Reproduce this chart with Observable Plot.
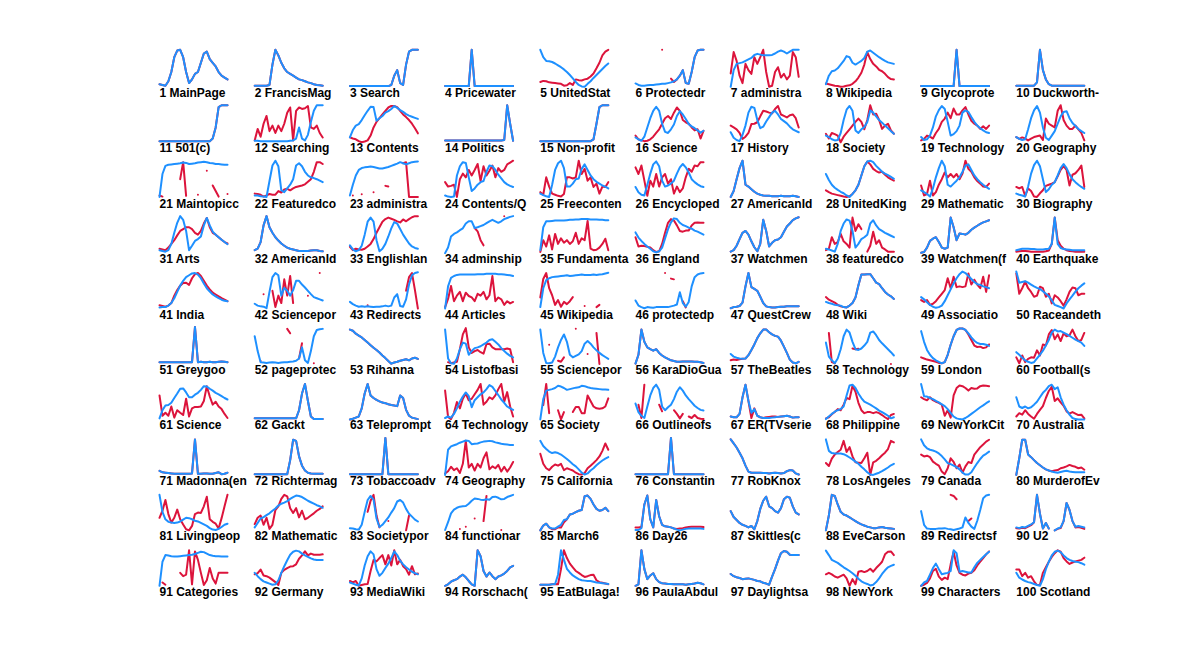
<!DOCTYPE html>
<html><head><meta charset="utf-8">
<script src="https://cdn.jsdelivr.net/npm/d3@7"></script>
<script src="https://cdn.jsdelivr.net/npm/@observablehq/plot@0.6"></script>
<style>html,body{margin:0;padding:0;background:#fff;overflow:hidden}</style>
</head><body><div id="chart"></div>
<script>
const S = "same"; // red series identical to blue
const _ = null;   // missing value

const labels = [
"MainPage","FrancisMag","Search","Pricewater","UnitedStat","Protectedr","administra","Wikipedia","Glycoprote","Duckworth-",
"501(c)","Searching","Contents","Politics","Non-profit","Science","History","Society","Technology","Geography",
"Maintopicc","Featuredco","administra","Contents/Q","Freeconten","Encycloped","AmericanId","UnitedKing","Mathematic","Biography",
"Arts","AmericanId","Englishlan","adminship","Fundamenta","England","Watchmen","featuredco","Watchmen(f","Earthquake",
"India","Sciencepor","Redirects","Articles","Wikipedia","protectedp","QuestCrew","Wiki","Associatio","Raceandeth",
"Greygoo","pageprotec","Rihanna","Listofbasi","Sciencepor","KaraDioGua","TheBeatles","Technology","London","Football(s",
"Science","Gackt","Teleprompt","Technology","Society","Outlineofs","ER(TVserie","Philippine","NewYorkCit","Australia",
"Madonna(en","Richtermag","Tobaccoadv","Geography","California","Constantin","RobKnox","LosAngeles","Canada","MurderofEv",
"Livingpeop","Mathematic","Societypor","functionar","March6","Day26","Skittles(c","EveCarson","Redirectsf","U2",
"Categories","Germany","MediaWiki","Rorschach(","EatBulaga!","PaulaAbdul","Daylightsa","NewYork","Characters","Scotland"
];

const blue = [
[0.7,0.5,0.3,1.5,4,8,9.8,10,8,4,1,2,3.5,4,6.5,9,9.5,7.5,6.5,5.5,4,3,2.5,2],
[0.3,0.3,0.3,0.3,0.3,0.5,6,10,8.5,6.5,5,4,3.5,3,2.5,2,1.8,1.5,1.2,1,0.7,0.5,0.4,0.3],
[0.2,0.2,0.2,0.2,0.2,0.2,0.2,0.2,0.2,0.2,0.2,0.2,0.2,0.2,0.5,3,4.5,1,0.5,6,9.5,10,10,10],
[0.2,0.2,0.2,0.2,0.2,0.2,0.2,0.2,0.2,10,0.2,0.2,0.2,0.2,0.2,0.2,0.2,0.2,0.2,0.2,0.2,0.2,0.2,0.2],
[10,8,7,6.9,6.7,6.3,5.8,5.3,4.7,4,3.2,2.3,1.3,0.5,0.1,0,0.8,1.5,2.4,3.2,4,4.8,5.6,6.3],
[0.9,0.5,0.3,0.3,0.4,0.5,0.5,0.6,0.7,0.8,0.8,1,1.2,1.5,2,3,4.5,1,0.8,4,8,9.8,10,10],
[0,4.5,6.2,6.4,6.6,7,7.4,7.8,8.6,8.9,8.7,8.5,8.5,8.5,8.6,9,9.5,9.8,9.5,9,9.5,10,10,10],
[0.7,3,4.2,4.4,5,6,7,8.3,8,6.5,6,6.5,7,7.8,9.5,9.8,9.2,8.6,8,7.5,7,6.6,6.4,6.2],
[0.2,0.2,0.2,0.2,0.2,0.2,0.2,0.2,0.2,0.2,0.2,0.2,10,0.2,0.2,0.2,0.2,0.2,0.2,0.2,0.2,0.2,0.2,0.2],
[0.3,0.3,0.3,0.3,0.3,0.3,0.3,1.2,10,4.5,2,0.7,0.3,0.3,0.3,0.3,0.3,0.3,0.3,0.3,0.3,0.3,0.3,0.3],
[0.3,0.3,0.3,0.3,0.3,0.3,0.3,0.3,0.3,0.3,0.3,0.3,0.3,0.3,0.3,0.3,0.3,0.3,1,4,9.5,10,10,10],
[0.4,0.4,0.3,0.3,0.3,0.3,0.3,0.3,0.3,0.3,0.3,0.3,0.4,0.5,1,4,1,0.5,2,5.5,8.5,10,10,10],
[1.3,3.3,4.5,4.9,6,7.3,8.5,9.6,9.5,5.8,6.5,7.1,8,8.4,9,9.8,9.3,8.7,8.2,7.6,7.2,6.9,6.6,6.3],
[0.5,0.5,0.5,0.5,0.5,0.5,0.5,0.5,0.5,0.5,0.5,0.5,0.5,0.5,0.5,0.5,0.5,0.5,0.5,0.5,0.6,10,5,0.4],
[0.3,0.3,0.3,0.3,0.3,0.3,0.3,0.3,0.3,0.3,0.3,0.3,0.3,0.3,0.3,0.3,0.3,0.3,0.8,5,9.5,10,10,10],
[1.3,0.8,0.4,1.5,4,6.5,8.5,9.6,8.5,5,2.8,2.5,3.5,4.8,7.1,8.4,7.5,6.3,4.9,4.3,3.8,3.2,2.6,3.1],
[2.7,1.2,0.6,0.3,2,4.5,8,9.6,9.3,6,3.8,4.2,5.6,6.8,8,8.5,7.5,6.3,5.7,5.1,4.2,3.5,3.1,2.7],
[1.8,1.4,0.8,0.5,0.6,2.5,6,8.8,9.8,8.5,3.2,2.5,3.5,4.1,5.5,8.6,8,7,6,5.3,4.5,3.8,3,2.3],
[1.4,0.6,0.8,1.8,4,7,8.7,9.8,9,5.5,1.8,2.2,3,4.5,8,8.6,8.2,6.8,5.5,4.5,3.8,3.2,2.7,2.5],
[1.4,0.9,0.6,0.8,3.5,6.5,8.6,9.8,8,4,1.2,0.6,1.8,3,5,7,8.2,8.4,6.5,5.2,4.4,3.6,3,2.5],
[0.2,6.4,8.6,8.9,9,9.1,9.2,9.3,9.5,9.4,9.1,9.2,9.3,9.5,9.6,9.7,9.6,9.4,9.3,9.1,9.1,9,8.9,8.9],
[0.6,0.6,0.4,0.3,0.2,4.5,8.7,10,8.5,2,1.5,2.5,3.5,5,8.7,9.3,8.5,7,6,5.5,5.3,5,4.6,4.2],
[0.6,3.5,6,7.5,8,8.2,8.3,8.4,8.3,8.1,7.9,7.9,8.1,8.3,8.6,8.9,9.2,9.6,9.3,9,9.3,9.6,9.7,9.8],
[0.6,0.3,0.2,0.3,6,8.5,9.6,9.4,5.5,1.8,2.5,3.5,4.2,4.5,7,8.7,8.5,7.5,6.2,5.2,4.2,3.6,3.2,2.9],
[1.1,0.7,0.4,0.2,3.5,7.5,9.3,10,8,3,3,3.8,5,5.2,7.8,9,7.5,6,5,4.3,3.8,3.3,3,2.5],
[2.9,1.5,0.8,0.6,3.5,6.5,9,9.8,8.5,4.6,3,3.3,3.8,4.6,6.5,8.2,9.1,8.2,6.8,5,4.2,3.6,3.1,2.9],
[0.2,1.8,5,8,10,3.5,3,2.3,1.6,1.1,0.8,0.6,0.5,0.5,0.4,0.4,0.4,0.5,0.4,0.4,0.4,0.5,0.4,0.2],
[6.4,4.8,3.5,2.7,2.1,1.6,1.2,0.6,0.2,1,2,3.5,6,8.5,9.8,10,9.6,8.6,7.8,7,6.5,6.1,5.6,5.1],
[2,1.5,1,0.3,2.5,5.5,8,10,8.5,3.5,3,3.8,4.6,5.5,7,8.7,9,7.5,6,5,4.2,3.5,2.9,2.4],
[1.1,0.8,0.6,0.3,3,6.5,8.8,10,8.5,5,1.5,2.3,3.5,4.2,6,8,9.1,8,6.3,5,4.2,3.5,2.9,2.4],
[0.8,0.6,0.4,0.8,2.5,5.5,8.2,10,9,6,0.8,2,3.3,3.8,4.5,7.5,9.5,7.5,5.8,5,4.3,3.6,3,2.4],
[0.8,1.2,3,7.5,10,7,5.5,4.3,3.4,2.6,2,1.5,1.2,1,0.8,0.6,0.6,0.6,0.6,0.7,0.8,0.8,0.6,0.5],
[2.1,1,0.5,0.8,2,5,8.5,9.6,8.5,3.5,0.5,1.2,2.5,4.5,6.7,8.4,8,6.5,5,3.8,2.6,1.8,1.4,1.2],
[0,1.5,4.5,5.2,5.6,6.2,6.7,8,8.6,8.6,6.8,7,7.3,7.6,8.1,8.6,9,8.6,8.2,8.6,9.2,9.5,9.8,10],
[0.8,7,8.6,8.6,8.7,8.8,8.8,8.8,8.8,8.9,9,9,9.1,9.1,9.2,9.2,9.2,9.1,9.1,9.1,9,9,8.9,8.9],
[5.6,4.2,3.3,2.5,1.8,1.2,0.5,0.2,0.5,1.5,4,6.5,8.3,9.4,9.2,8.2,7.6,7.3,6.9,6.6,6.1,5.8,5.4,5],
[0.4,0.8,2,3.8,5.5,6,5,3.2,1.6,0.5,2.5,9,6,1.8,2.8,3.5,3.7,4.3,5.8,7.2,8,8.9,9.4,9.7],
[1.2,1,0.7,0.4,2.5,6,8,9.1,8.8,6,1.5,2.5,3.8,4.3,5,8,8.9,7.5,6.5,6,5.5,5.1,4.7,4.3],
[0.1,0.3,1.5,3.3,3.9,4.3,3,1.5,1.2,1.5,9.6,7,3.5,5.3,5.2,5,5.5,6.3,6.9,7.4,7.9,8.3,8.6,8.9],
[0.8,1,1.2,1.2,1.2,1.1,1.1,1,1,1,1.1,1.2,2.5,9.6,2.5,1.4,1.1,1,0.9,0.8,0.8,0.8,0.8,0.8],
[0.3,0.4,0.4,0.8,1.5,2.8,4.5,6.2,7.5,8.5,9,9.5,9.6,9.2,8.2,6.8,5.5,4.6,3.8,3.3,2.8,2.4,2.1,2],
[1.3,0.8,0.6,0.5,0.1,4.5,8.5,9.6,9,3.5,5.6,4.8,3.5,5,7.5,7.5,6.5,5.7,4.8,3.9,3.1,2.8,2.5,2.2],
[1.8,1.2,0.8,0.5,0.6,0.5,0.6,0.5,0.4,0.5,0.5,0.6,0.8,0.6,0.8,3,3.9,0.7,0.5,2.5,6.5,9,9.6,9.8],
[0,6,8.3,8.8,9.1,9.2,9.2,9.2,9.2,9.2,9.2,9.3,9.3,9.3,9.4,9.4,9.4,9.4,9.3,9.3,9.2,9.1,9,8.8],
[0.4,5.5,7.7,8.2,8.5,8.6,8.7,8.8,8.9,9,8.8,8.9,9,9.1,9.2,9.1,9.1,9.1,9.2,9.1,9.2,9.3,9.5,9.7],
[2.2,0.8,0.4,0.1,0.4,0.3,0.2,0.4,0.4,0.4,0.4,0.4,0.6,0.8,1.1,4.4,1.5,0.5,1.8,6,8.5,9.2,9.5,9.6],
[0.1,0.4,0.5,0.7,1.6,6,9.6,5.8,5.3,4.8,3.2,1.5,0.6,0.4,0.3,0.3,0.4,0.5,0.5,0.6,0.6,0.6,0.6,0.6],
[1.8,1.5,1.3,1,0.9,0.8,0.4,0.3,0.8,1.5,3,6.3,9.2,9.2,9.3,9.3,8.2,7,6.6,5.5,4.5,3.8,3.3,2.6],
[3.1,2.5,1.7,1,0.5,0.2,0.4,0.8,2,3.6,5.2,6.8,8.2,9.3,10,9.6,8.8,8,7.2,6.6,6.4,6,5.8,5.5],
[10,7,7.2,7.4,7,6.5,6,5.6,5.3,4.7,4,3.3,2.2,1,0.7,0.4,0,1.4,2.5,3.5,4.6,5.5,6.2,6.8],
[0.5,0.5,0.5,0.5,0.5,0.5,0.5,0.5,0.5,0.5,0.5,0.5,10,0.5,0.6,0.5,0.5,0.6,0.5,0.5,0.6,0.7,0.6,0.5],
[7.5,3.5,0.5,0.4,0.3,0.4,0.5,0.4,0.3,0.4,0.5,0.5,0.6,0.7,0.9,1.5,4.5,1,0.3,3.5,7.5,9.2,9.4,9.5],
[9.3,9,8.2,7.7,7.2,6.5,5.8,5.1,4.4,3.8,3.1,2.3,1.6,0.8,0.1,0.4,0.6,0.9,1.1,1.3,1,1.5,1.7,1.4],
[9.3,1.5,0.2,0.1,1.5,4,5.8,5.5,2.5,3.5,4.3,4.5,4.8,5.3,5.8,6.5,6.7,6,5.3,4.3,3.5,2.8,2.2,1.8],
[9.3,3,0.3,0.2,0.4,2,4.5,6.5,8,6,2.5,1.8,2.2,2.6,3.5,5.5,6.2,5.5,4.5,3.7,3,2.4,1.9,1.4],
[0.1,2.5,9.3,6,4.5,4,3.6,4,3,2.3,1.8,1.4,1,0.8,0.6,0.6,0.7,0.7,0.7,0.7,0.6,0.6,0.5,0.3],
[2.7,2,1.7,1.5,1.4,1.5,2.4,3.8,5.3,7,8.3,9.3,9.3,8.6,8,7.6,7.4,6.3,4.7,3,1.2,0.4,0.2,0.6],
[5.8,2,1,0.2,1.5,4,7.5,9.3,8.5,6,4,3.8,4.2,5,6,8.5,8.8,7.8,6.5,5.6,4.8,4,3.2,2.3],
[8.9,6,3.8,2.5,1.6,1,0.6,0.2,0.5,2.5,5.2,7.5,9.2,9.6,9.6,9.2,8.3,7.2,6.3,5.7,5.4,5.4,5.2,4.9],
[3.2,2.5,1.7,1,0.6,0.3,0.5,1.5,2.5,3.6,5,6.5,8.5,9.3,8.8,8.9,8.5,8.1,7.6,7.1,6.6,6.2,5.8,4.9],
[0.3,2.5,3.8,3.9,4.5,5.8,7,8.3,8.4,7.3,6,6,6.7,7.2,8,9,8.9,8.3,7.8,7.2,6.8,6.3,5.8,5.4],
[0.3,0.3,0.3,0.3,0.3,0.3,0.3,0.3,0.3,0.3,0.3,0.3,0.3,0.3,0.3,2.5,7,9.6,5,0.8,0.1,0.1,0.1,0.1],
[0,0.2,0.5,0.8,3,7,9.6,6.5,5.8,5.3,4.9,4.6,4.4,4.1,3.9,3.8,3.6,6.5,5.8,2.6,1,0.5,0.3,0.1],
[0.4,0.8,0.5,1.5,3,4.8,6.2,7.3,6.3,3.3,5.2,6,6.8,7.3,8.2,9.3,8.8,7.7,6.6,5.4,4.5,3.5,3,2.6],
[0,5.5,7.8,8,8.2,8.5,9.1,8.9,8.5,8,8.2,8.4,8.6,8.7,9.1,9,8.7,8.5,8.4,8.3,8.2,8.1,8.1,8],
[4.3,2,1,0.4,3.5,6.5,8.5,9.4,8,3.5,2.5,3.3,4,5.5,7.5,8.7,7.8,6.5,5.5,4.6,3.7,3.1,2.6,2.4],
[0.8,0.6,0.6,1.5,6,9.4,5,1.8,2.8,1,0.6,0.4,0.4,0.4,0.5,0.6,0.7,0.8,0.9,1,0.8,0.5,0.6,0.6],
[0.1,0.8,1.5,2.1,2.5,2.8,3.5,6.5,9.2,9.4,8.5,7,5.8,4.8,4.4,4,3.5,3,2.4,2,1.5,1,0.3,0.6],
[9.6,6.3,6.2,5.8,5.5,5,4.6,4.1,3.6,2.8,1.8,0.8,0.3,0.1,0,0.4,0.9,1.5,2.1,2.7,3.3,3.8,4.4,4.9],
[6,3.5,3.1,3.5,3,3.3,4,4.8,6,7.2,8,9,9.4,8.2,8.7,6,4,2.5,1.3,0.4,0.1,0,0,0],
[1.1,0.7,0.6,0.5,0.4,0.3,0.3,0.3,0.3,0.3,0.3,0.4,9.6,0.3,0.3,0.4,0.4,0.3,0.3,0.5,0.7,0.2,0.3,0.6],
[0.2,0.2,0.2,0.2,0.2,0.2,0.2,0.2,0.2,0.2,0.2,0.2,4,9.5,9.2,5,2.5,1.2,0.6,0.4,0.3,0.3,0.3,0.3],
[0.2,0.2,0.2,0.2,0.2,0.2,0.2,0.2,0.2,0.2,0.2,0.2,10,0.2,0.2,0.2,0.2,0.2,0.2,0.2,0.2,0.2,0.2,0.2],
[0,6.8,7.7,8,8.3,8.7,9,9.3,9.2,8.3,8.4,8.5,8.8,9,9.1,9.2,9.1,8.8,8.6,8.4,8.3,8.2,8.1,8.1],
[9.2,7.8,7,6.3,5.9,6.1,5.9,5.5,4.9,4.3,3.6,2.9,2.3,1.5,0.6,0.1,0.4,1.2,1.8,2.6,3.3,3.9,4.4,4.8],
[0.2,0.2,0.2,0.2,0.2,0.2,0.2,0.2,0.2,0.2,0.2,0.2,10,0.2,0.2,0.2,0.2,0.2,0.2,0.2,0.2,0.2,0.2,0.2],
[9.6,8.5,7.4,6,4.5,2.5,0.9,0.6,0.6,0.6,0.6,0.5,0.5,0.4,0.5,0.6,0.5,0.4,0.5,1,1.3,1.2,0.4,0.1],
[9.6,6.5,5.9,5.8,5.8,5.8,5.6,5.2,4.7,4.2,3.6,3,2.2,1.5,0.7,0.1,0,0.3,0.6,1,1.5,2,2.6,3],
[9.6,8,7.2,6.8,6.6,6.3,5.8,5.1,4.2,3.2,2.9,2.5,2.1,1.5,0.6,0.1,0.1,0.7,2,3.2,4.3,5.2,5.7,6.3],
[0,4.5,9.5,9.5,5.5,4.8,4,3.2,2.6,2,1.5,1.2,0.9,0.7,0.6,0.8,1,1.1,0.9,0.8,0.7,0.7,0.7,0.7],
[9.6,5,3,2.3,2.1,2,2.1,2.4,2.9,3.4,3.3,3,2.6,2.4,2,1.6,1.2,0.6,0.2,0.1,0.4,0.9,1.5,1.8],
[0.8,2,3.2,3.6,4.1,4.6,5.3,5.9,6.7,7.2,7.5,7.9,8.5,9,9.4,9.3,9,8.5,8,7.6,7.2,6.8,6.5,6.1],
[0.6,0.5,0.3,0.2,1.5,5,8.2,9.3,8.3,3.2,0.9,1.5,2.5,3.5,4.8,6,7.8,8.2,7.5,5.8,4.5,3.7,2.9,2.4],
[0.1,2.2,4.6,5.6,6.1,6.4,6.5,6.6,7.2,8,8.6,8.5,8.3,8.2,8.4,8.3,9,9.1,8.8,8.4,8.5,9,9.3,9.6],
[0,1.3,1.8,0.8,0.5,0.5,1,1.5,2.8,3,4.3,4.5,4.9,5.3,5.5,9.2,9.4,8.5,7,5.8,5.3,5.5,6.1,5.2],
[0.1,0.1,0.6,7,9.4,3,0.8,8.2,3.8,1.5,1.1,1,0.8,0.5,0.2,0,0.2,0.4,0.5,0.5,0.5,0.5,0.5,0.4],
[5.2,3.6,2.8,2,1.5,1.2,0.8,1.2,0.3,2.5,5.8,8,9.1,6.5,6,5.2,4.8,6,8.4,9.1,8.8,6.5,4.8,4.3],
[0,4,9.6,9.3,7,5,4.3,4,3.5,3,2.5,2,1.6,1.3,1,0.8,0.6,0.6,0.8,0.9,0.7,0.6,0.5,0.4],
[5.2,1.5,0.5,0.4,0.4,0.4,0.5,0.5,0.6,0.4,0.3,0.1,0.3,0.5,0.8,3.5,2,1,0.4,2.6,5.5,8.7,9.4,9.6],
[0.8,0.6,0.9,0.8,1.2,1.6,2.2,9.6,4.5,0.5,2,0.5,_,0,0.5,0.8,2.5,7.4,5.5,2.5,1,1.2,1,0.8],
[0,6.5,8.3,8.2,8,7.9,7.9,8,8.1,8.2,8.3,8.4,8.6,8.9,9.2,9.1,8.7,8.3,8.1,8,8,7.9,7.9,7.9],
[3.5,2.6,1.8,1.2,0.9,0.6,0.3,0.4,1.5,3.5,5.3,6.9,8.4,9.2,9.5,9.3,8.7,8.2,7.8,7.4,7.1,7,7,7],
[0.9,0.6,0.3,0.1,2,5.5,8,9.3,8.5,4.5,2.7,3.5,4.8,6,7.5,9.3,8.3,6.8,5.8,5,4.4,3.8,3.4,3.1],
[0,0.4,1.1,1.5,1.8,2.5,3,2.3,1.3,0.4,0,9.6,8,4,2.5,3.6,2.6,1.8,2.5,2.8,3.3,4,5,5.4],
[0.3,0.3,0.3,0.3,0.4,0.5,3,9.6,7,4.6,3.6,2.8,2.3,1.8,1.5,1.4,1.3,1.3,1.1,0.9,0.8,0.7,0.6,0.5],
[0,0.4,9.6,4.5,1.8,2.8,3.4,1.8,1,0.7,0.6,0.5,0.5,0.4,0.4,0.4,0.4,0.3,0.4,0.5,0.6,0.8,0.7,0.4],
[3.2,2.6,2.3,2.1,1.8,1.9,2,1.8,1.6,1.3,1.2,0.8,0.6,0.3,2.5,4.5,6.8,8.8,9.4,9.2,8.4,8.3,8.3,8.3],
[9.5,8.3,7,6.6,6.2,5.6,5,4.5,4,3.4,2.7,1.9,1.2,0.8,0.5,0.1,0.3,1,2,3.2,4.2,5,5.4,5.7],
[0,0.9,1.3,3,4.8,6,4.5,3.1,3.3,3.5,4,9.6,8.8,3.8,4,3.8,3.6,3.6,5,6.2,7,7.8,8.5,9.2],
[3.5,2.2,1.7,1.3,1,0.8,0.5,0.2,0,1.8,4.5,6.5,8.2,9.2,9.5,9.1,8.2,7.5,7,6.7,6.5,6.4,6.1,5.7]
];

const red = [
S,S,S,S,
[1.3,1.6,1.5,1.2,1.1,1,0.9,0.8,0.3,0.4,1,0.5,2,1.8,1.7,2,2.2,2.8,3.6,5,6.5,8.5,9.5,10],
[_,_,_,_,_,_,_,_,_,10,_,_,2.2,1.3,2,3,4.5,1,0.8,4,8,9.8,10,10],
[3.6,9.4,7,3,1,6.2,4.5,3.5,8,6.2,8,10,4,0,0.3,4,5.3,2.5,3.5,2,3,9.4,8,2.7],
[0.9,0.7,0.5,0.3,0.2,0,0.1,0.3,0.4,0.8,1.5,2.5,3.8,6,9.4,7.5,6.2,5.5,4.6,4.2,3.5,2.6,2.1,2],
S,S,
S,
[0.5,3.6,1.5,5,7.1,3,4.5,2.5,4.5,3,5,8,9.4,0.5,8.5,9.4,9,9.2,9.8,4,3.6,4.5,2.5,1.3],
[1.3,1,0.8,0.3,0,0.2,0.5,1.8,4,5.5,6.5,7.5,8.5,9.4,9.8,9.8,9.5,8.5,7.5,6.8,6,5,3.8,2.4],
S,S,
[1.8,0.8,0.5,0.3,0.4,0.8,1.5,2.5,3.5,5,6.5,7.1,6.3,8,9.4,8.5,6,5.4,5,4,3.2,3.5,1,3.1],
[4.5,4,3.5,2.5,0.9,1.5,2.5,4.9,5,5.4,7,8.5,8.3,8,7.8,9,9.8,7.5,7.1,6.7,7.3,7.5,6.5,4],
[2.3,1,2.5,2.2,1.8,0,1.5,2.5,3.5,4.5,5.5,6.4,5.5,3.5,6,10,7.5,7.7,6,3.6,4.5,5,3.2,2.3],
[0.5,0.9,1.8,1.5,1,2.5,3.6,5.5,6.4,8,6.5,9.1,7.5,7.5,8.6,9.5,7.5,5.8,5,4.5,3.6,4.3,3.6,4.5],
[1.4,0.9,1.3,1,0.5,1,1.4,1.6,1.8,0.6,6.4,5,4.5,4,8.5,10,6,4.5,3.6,3.6,4.5,3.5,2.5,0.5],
[0.6,0.3,_,_,_,_,_,5,9.6,0.5,_,_,_,0.8,_,_,7.3,_,3.3,1.8,0.3,_,_,1],
[1.1,1,0.8,0.3,0.6,1,0.8,0.8,1.8,1.4,2.2,2.4,2,2.5,2.9,3.1,3.3,3.6,4.3,5,7,9.6,9.6,9.1],
[_,0.6,_,_,0.9,_,_,_,1.5,_,_,_,3.2,3,_,_,_,_,9.3,9.6,0.2,0.2,0.2,0.2],
[4.2,3,3.2,3.5,0.2,5,6.5,5.5,7.5,6,7.5,9.1,4.5,8.5,6,7.3,8.7,5.5,8,7,7.5,9,9.5,10],
[1.5,0.8,5.5,3,1.1,0.8,0.5,0.3,1,5.5,5.5,5.2,5.5,10,6.4,7.8,4.6,5.5,2.9,3.8,1.1,3,2.9,4.2],
[8.2,6.4,8.7,4.6,0.5,4.6,3,6.4,3,5.5,6.4,3.8,5,1.1,3,1.5,2.5,5.5,7.8,7,8.7,8.5,9.6,9.6],
S,
[2,1.5,1.1,0.9,0.7,0.5,0.3,0.2,0.4,1,2,3.5,6,8.5,9.8,9,7.8,7.2,6.8,7,6.2,5.5,5,4.6],
[3.3,0.6,1,4.6,0.6,1.5,3.5,5,6.8,5.5,6.4,5.5,6.4,5,6.5,10,7.8,7,5.5,4.5,3.8,3,2.9,3.8],
[2.9,2.5,2.9,0.5,2.5,1.8,0.3,0.2,1.2,2,3.2,3.5,3.8,4.2,5.8,7.5,8.5,7.5,3.3,6.2,6.6,7.5,8.7,2.9],
[1.2,1,0.8,1.5,2.5,3.5,4.8,6,6.5,7,7,6.5,5.5,5,6,8,9.5,7,5.5,5,4.3,3.6,3,2.6],
S,
[1.7,0.8,1.2,1,0.9,1.2,1.8,2.5,3.8,5.5,7,8.5,9.2,9.6,9.3,9,8.6,8.3,9.1,8.6,9.2,9.7,10,10],
[_,_,_,_,_,_,_,_,_,_,6.8,5.9,3.5,2.1,_,_,_,_,_,_,10,_,_,_],
[0.3,3.5,1.8,4.8,1,5.2,2.5,4,2.8,3.5,2.5,3.2,5.5,2.5,4,3.5,8.7,1.2,0.8,0.9,1.5,2.5,3.9,0.8],
[4.3,1.8,2,1.9,1.7,1.5,0.8,0.3,0.5,2.5,5.5,8.2,9.2,8.8,7.5,6,5.8,6.1,6.1,7.5,8.2,8.3,8.2,8.2],
S,
[0.8,1.2,4.3,2.5,3,5.2,3.2,2.5,1.5,9.6,6,7.8,6.5,_,0.4,2,5.8,2.5,3.5,1.5,1,0.4,0.4,0.4],
S,
[0.4,0.5,0.6,0.6,0.5,0.4,0.4,0.4,0.4,0.4,0.5,0.7,2.5,9.6,3.5,2,1.2,0.8,0.6,0.5,0.4,0.4,0.4,0.4],
[0.9,0.7,0.5,0.8,1.5,3.5,5,6.2,6.9,7,6.4,8.2,9.3,9.6,8.8,7.5,6.2,5.2,4.3,3.8,3.3,2.8,2.4,2],
[_,_,_,3.9,_,_,4.8,0.4,3.5,1.5,7.9,3.5,8.8,1.5,_,_,_,_,3.5,_,_,_,9.6,_],
[_,_,_,_,_,_,0.9,_,_,_,_,_,_,_,_,_,_,_,_,4.8,8.5,9.6,5,0],
[0.4,2.6,6.1,2,3.5,4.5,2,4.3,3.4,3,2,4,3.5,4.5,2.5,3.6,8.8,2,3,2.5,1,2,1.4,1.8],
[3,8,9.6,5.5,3.6,1,2.3,0.5,1.8,1.2,2,3.1,_,_,_,0.7,_,_,_,0.4,1,_,_,_],
[_,_,_,_,_,_,_,_,_,_,9.6,_,8.1,7.9,_,_,2,0.3,_,_,_,_,_,_],
S,
[3.1,2.4,2,1.6,1,0.6,0.4,0.3,0.8,1.5,3,6.3,9.2,9.2,9.3,9.3,8.2,7,6.6,5.5,4.5,3.8,3.3,2.6],
[2.3,1.8,2.3,1,1.3,2,3,4,5,8.2,5.5,8.6,5.8,6,5.8,6,9.5,6.5,7.8,6.5,5.5,8.6,4.5,9],
[9.5,4,5.5,7.3,5.5,4.5,3.2,3.5,5.9,5.5,3.2,4,1.4,3.6,3,2,0.8,2.5,4.5,5.7,5.5,3.6,4,4],
S,
[_,_,0.8,_,_,_,_,_,_,_,_,9.5,8.3,_,_,1.5,5.6,_,_,_,0.2,_,_,_],
S,
[_,0.5,0.2,0.4,0.6,4,8,9.7,4.5,3,3.5,3.8,3.2,2.8,5.4,5.5,4.5,4,4,4,4,4.2,4,0.5],
[_,_,_,5.2,_,_,0.9,0.6,1.8,_,_,_,9.5,_,_,_,2.7,_,_,8.4,0,_,_,_],
S,
[1,1.2,1.1,1.3,1.4,1.5,2.4,3.8,5.3,7,8.3,9.3,9.3,8.6,8,7.6,7.4,6.3,4.7,3,1.2,0.4,0.2,0.6],
[_,8.4,0.5,0.2,_,_,_,_,_,4.2,4,4.1,_,_,_,_,_,_,_,_,_,_,0,_],
[1.8,1.5,1.2,1,0.8,0.6,0.3,0.2,0.5,2.5,5.2,7.5,9.2,9.6,9.6,9.2,8,6.5,5,4.6,4.7,4.3,4.5,5.3],
[1.8,0.2,2.3,0.5,1.4,1.8,1.7,3.7,2.3,5.3,5,8,9.2,6.7,8,6.2,8.3,7.5,7.8,9.3,7.5,6.2,6.5,8.4],
[6.5,1,1.8,1,3.5,0.5,2.5,1.8,1.2,5.6,0.8,3,3.4,3.4,3.5,5,9,6.2,4,4.8,3.5,2.8,1.5,0.4],
S,S,
[7.8,0.7,0.1,1.8,4.7,3,5.6,7,5.2,5.6,6.8,8,9.6,4,4.8,6,5.5,6.5,8.2,9.6,4.8,7.4,3.5,0.8],
[_,3.9,9.6,1.7,_,_,2.5,0,2,_,_,2,3.4,3.4,1.7,1.7,6.5,5,3.5,3,2.9,3,3.5,5.7],
[_,4,0.4,9.4,_,_,_,_,4,2.2,_,_,_,2.5,1.5,0.3,1.5,_,0.8,0.4,1.2,0.4,0.2,0.1],
[0.8,0.6,0.6,1.5,6,9.4,5,0.4,3,1,0.6,0.4,0.6,0.7,0.8,0.8,0.7,0.8,0.9,1,0.8,0.5,0.6,0.6],
[0.3,0.6,1.4,2,2.8,2.5,4,5.8,5.5,9.1,7.5,4.5,2.5,1.7,2,2,1.7,2,1.7,1.2,0.6,0.1,1.2,1.5],
[6,5.5,5.2,6,5.2,4.8,4.5,4,1,2.5,0.5,6.5,8.5,9.2,9,8.5,7.8,8.5,8.3,8.4,9,9.2,9.1,9],
[0.8,1.7,1.3,2.5,1.5,0.8,0.2,1.5,2.6,3.6,5.8,7.7,8.8,5,5.7,4.6,3.7,2.2,1.6,2,1.6,1.2,1.3,0.3],
S,S,S,
[0.4,1,2.2,1.3,1.8,0.5,3,9.2,2,3,1.2,3,2,4.5,6.1,1.5,2.3,1.8,2.7,0.9,2.2,0.9,2,3.5],
[5.7,3,1.8,1.3,2.2,2.8,2.5,3,1.3,1.8,1.5,1.2,0.6,0.2,0.1,0.5,1.8,2.5,3.2,4,5,6.5,8.5,6.8],
S,S,
[3.2,2.4,4.4,5.5,6.2,6.8,9.2,6.2,7.5,5,3.4,3.3,3.2,4.5,6,0,3.4,3.8,4.5,5.3,6,7,9.2,8.8],
[5.5,5,5.2,4.8,3.6,3,2.5,0.9,0.2,1.8,4.5,3.5,1.8,2.8,0.6,2.3,3.5,3.2,5.5,6.5,7.5,8.2,9,9.5],
[0,4.5,9.5,9.5,5.5,4.8,4,3.2,2.6,2,1.5,1.2,1,1.2,1.3,1.8,2,2.3,2.7,2.4,2.2,1.8,2,1.4],
[3.4,5.3,8.2,4.4,2.1,3.4,5.6,3,1.6,0.3,0,1.2,4.4,4.8,4.7,6.5,9.1,3,2.3,1.8,0.5,3.3,6.5,9.6],
[1.7,3.4,4,1.5,3.4,0.4,1.5,5.5,6.5,8.5,9.6,9.2,6,4.7,6,3.5,5.3,3,3.4,4,4.6,5.3,5.8,6.5],
[_,_,_,_,_,_,5,8,9.6,4,0.8,_,_,2.5,_,_,_,_,_,0,4,_,_,_],
[_,_,_,_,_,0.4,_,1,_,_,3.2,_,_,2.5,9.3,_,_,_,_,0.1,_,_,_,_],
[0,1.3,1.8,0.8,0.3,0.3,0.8,0.8,2.2,3,4.3,4.5,4.9,5.3,5.5,9.2,9.4,8.5,7,5.8,5.3,5.5,6.1,5.2],
[0.8,0.8,0.9,7,9.4,3,0.8,8.2,3.8,1.5,1.1,1,0.8,0.5,0.4,0.5,0.6,0.8,0.9,1,1,1,1,0.9],
S,S,
[_,_,_,_,_,_,_,_,_,_,9.6,9.3,8.4,_,_,_,2.5,3.2,_,_,_,_,_,_],
[0.6,0.5,0.7,0.6,1,1.4,2.2,9.6,4.5,0.5,2,0.5,_,0,0.4,0.6,2.5,7.4,5.5,2.5,0.8,0.9,0.7,0.4],
[_,0.9,0.3,_,_,_,_,3.5,2.6,3,9.6,0.4,9.3,7,3.5,0.2,1.5,4.8,2,0.6,3.5,3.5,3.5,3.5],
[3.1,3.4,4.4,2.8,2.6,2.2,1.6,1,0.2,3.5,4.3,4.8,5.2,5.3,5.8,7.3,8.2,9.3,8.2,8.7,8.4,8.4,8.4,8.5],
[1.3,0.9,1.3,0,0.2,0.4,0.5,4,7,6.6,7.5,8.3,5.8,8.3,5.5,9.6,5.8,7,5.3,4.5,3,5.3,3.1,3.3],
S,
[0.3,0.3,0.3,0.3,0.4,0.5,0.4,4.5,9.6,7.5,6,5,4,3.5,2.9,2.4,2.6,2.9,3,1.5,1,0.8,0.6,0.4],
S,S,
[3.1,3.5,3.1,2.5,2.2,2.6,3,2,0,1.8,0.4,3.8,4,3.7,4,4.6,3.8,4.8,5.6,6.5,8.5,9.2,9.3,8.3],
[0,0.3,0.8,2,4,4.6,2.5,1.6,2.2,1.8,5.8,9.2,5.5,3.5,3,2.8,3.3,3.5,4.2,5.5,6.5,7.5,8.5,9.3],
[4.4,4.4,2.6,3.5,2.2,2.6,1.2,0.2,0.2,3.5,5,6.5,7.8,8.8,9.6,9.2,7.5,6.6,5.9,6.3,6.6,6.8,7,7.6]
];

const blueRows = [], redRows = [], labelRows = [];
labels.forEach((name, p) => {
  const col = p % 10, row = Math.floor(p / 10);
  labelRows.push({col, row, text: `${p + 1} ${name}`});
  blue[p].forEach((v, i) => blueRows.push({col, row, i, v}));
  const r = red[p] === S ? blue[p] : red[p];
  r.forEach((v, i) => redRows.push({col, row, i, v}));
});

const chart = Plot.plot({
  width: 1199,
  height: 662,
  marginLeft: 159,
  marginRight: 115.2,
  marginTop: 49.3,
  marginBottom: 76.7,
  style: {fontFamily: "'Liberation Sans', Arial, Helvetica, sans-serif", background: "white"},
  fx: {domain: d3.range(10), paddingInner: 0.2857, paddingOuter: 0, round: false, axis: null},
  fy: {domain: d3.range(10), paddingInner: 0.3326, paddingOuter: 0, round: false, axis: null},
  x: {domain: [0, 23], axis: null},
  y: {domain: [0, 10], axis: null},
  marks: [
    Plot.line(redRows, {x: "i", y: "v", fx: "col", fy: "row", stroke: "#dc143c", strokeWidth: 2}),
    Plot.line(blueRows, {x: "i", y: "v", fx: "col", fy: "row", stroke: "#1e90ff", strokeWidth: 2}),
    Plot.text(labelRows, {fx: "col", fy: "row", text: "text", frameAnchor: "bottom-left",
      textAnchor: "start", lineAnchor: "top", dy: 1.5, fontSize: 12, fontWeight: "bold", fill: "black"})
  ]
});
document.getElementById("chart").append(chart);
</script>
</body></html>
